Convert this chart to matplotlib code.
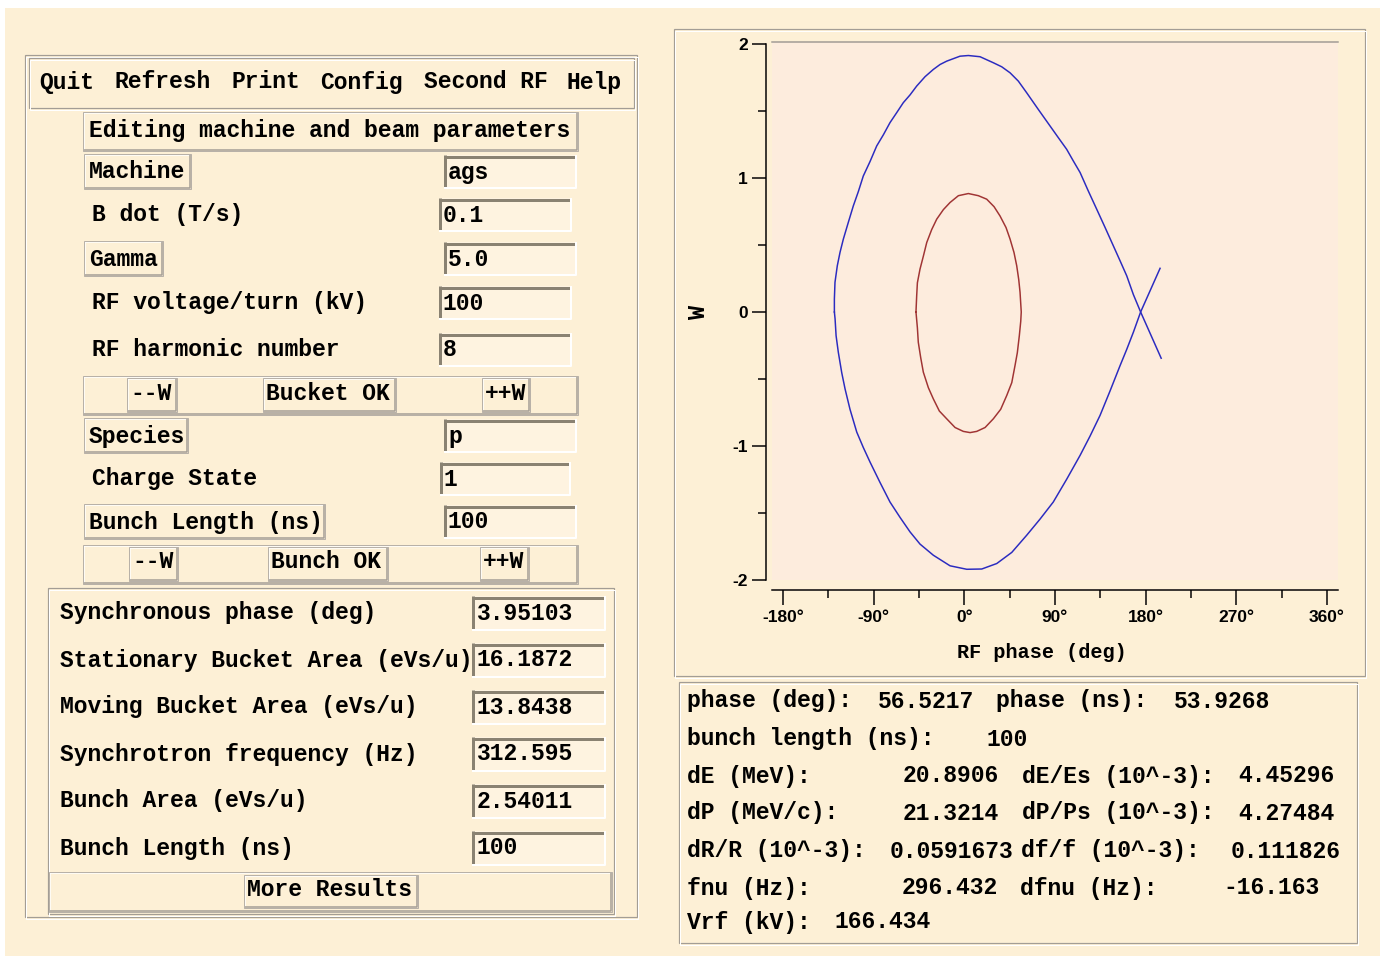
import matplotlib
matplotlib.use('Agg')
import matplotlib.pyplot as plt
from matplotlib.patches import Rectangle

# ---------------- data ----------------
sep_upper_phase = [-129.0, -129.0, -128.4, -126.1, -123.4, -120.1, -115.2, -110.2, -105.2, -100.3,
                   -93.6, -87.0, -80.4, -73.8, -67.1, -60.6, -53.9, -47.3, -39.0, -30.8,
                   -24.1, -17.5, -4.3, 4.0, 15.6, 28.8, 37.1, 45.4, 53.6, 61.9,
                   73.4, 85.1, 93.3, 101.6, 108.2, 114.9, 123.0, 131.4, 139.7, 147.9,
                   154.6, 161.2, 167.8, 175.0, 195.4]
sep_upper_w = [0.0, 0.097, 0.221, 0.345, 0.445, 0.544, 0.668, 0.792, 0.899, 1.015,
               1.123, 1.239, 1.322, 1.413, 1.488, 1.562, 1.620, 1.686, 1.756, 1.810,
               1.847, 1.872, 1.909, 1.914, 1.905, 1.860, 1.830, 1.785, 1.723, 1.636,
               1.512, 1.388, 1.301, 1.214, 1.127, 1.041, 0.904, 0.767, 0.631, 0.494,
               0.382, 0.270, 0.130, 0.0, -0.345]
sep_lower_phase = [-129.0, -128.3, -127.3, -125.1, -121.7, -118.4, -113.5, -106.8, -100.3, -93.6,
                   -83.7, -73.8, -63.8, -53.9, -44.0, -30.8, -14.2, 2.4, 17.3, 32.2,
                   47.1, 61.9, 75.1, 88.3, 101.6, 114.9, 124.8, 134.7, 144.6, 154.6,
                   161.2, 167.8, 175.0, 194.3]
sep_lower_w = [0.0, -0.052, -0.177, -0.300, -0.453, -0.574, -0.726, -0.896, -1.011, -1.120,
               -1.272, -1.418, -1.533, -1.641, -1.732, -1.815, -1.894, -1.920, -1.918, -1.877,
               -1.794, -1.666, -1.546, -1.418, -1.248, -1.070, -0.926, -0.772, -0.590, -0.400,
               -0.279, -0.151, 0.0, 0.326]
bunch_phase = [-48.0, -47.3, -46.6, -44.0, -40.7, -37.3, -32.4, -27.4, -20.8, -14.2,
               -5.9, 4.0, 13.9, 22.2, 29.5, 35.4, 41.4, 45.4, 49.3, 52.0,
               54.0, 55.3, 56.5, 56.0, 54.6, 52.6, 50.3, 47.1, 42.1, 36.1,
               28.8, 20.6, 12.3, 5.7, -1.0, -9.2, -17.5, -24.8, -30.8, -35.7,
               -40.7, -43.3, -45.7, -46.6, -48.0]
bunch_w = [0.0, 0.121, 0.218, 0.320, 0.416, 0.519, 0.615, 0.693, 0.764, 0.817,
           0.868, 0.884, 0.868, 0.842, 0.786, 0.717, 0.630, 0.544, 0.444, 0.345,
           0.242, 0.147, 0.0, -0.069, -0.176, -0.304, -0.400, -0.527, -0.623, -0.726,
           -0.797, -0.862, -0.891, -0.900, -0.891, -0.862, -0.797, -0.739, -0.648, -0.565,
           -0.449, -0.341, -0.226, -0.118, 0.0]

x_ticks = [-180, -90, 0, 90, 180, 270, 360]
x_tick_labels = ['-180°', '-90°', '0°', '90°', '180°', '270°', '360°']
x_minor = [-135, -45, 45, 135, 225, 315]
y_ticks = [-2, -1, 0, 1, 2]
y_tick_labels = ['-2', '-1', '0', '1', '2']
y_minor = [-1.5, -0.5, 0.5, 1.5]

menu_items = ['Quit', 'Refresh', 'Print', 'Config', 'Second RF', 'Help']
param_labels = ['Machine', 'B dot (T/s)', 'Gamma', 'RF voltage/turn (kV)', 'RF harmonic number',
                'Species', 'Charge State', 'Bunch Length (ns)']
param_values = ['ags', '0.1', '5.0', '100', '8', 'p', '1', '100']
result_labels = ['Synchronous phase (deg)', 'Stationary Bucket Area (eVs/u)',
                 'Moving Bucket Area (eVs/u)', 'Synchrotron frequency (Hz)',
                 'Bunch Area (eVs/u)', 'Bunch Length (ns)']
result_values = ['3.95103', '16.1872', '13.8438', '312.595', '2.54011', '100']
info_rows = [
    [('phase (deg):', 687), ('56.5217', 878), ('phase (ns):', 996), ('53.9268', 1174)],
    [('bunch length (ns):', 687), ('100', 987)],
    [('dE (MeV):', 687), ('20.8906', 903), ('dE/Es (10^-3):', 1022), ('4.45296', 1238)],
    [('dP (MeV/c):', 687), ('21.3214', 903), ('dP/Ps (10^-3):', 1022), ('4.27484', 1238)],
    [('dR/R (10^-3):', 687), ('0.0591673', 890), ('df/f (10^-3):', 1021), ('0.111826', 1231)],
    [('fnu (Hz):', 687), ('296.432', 902), ('dfnu (Hz):', 1020), ('-16.163', 1223)],
    [('Vrf (kV):', 687), ('166.434', 835)],
]

# ---------------- styles ----------------
W, H = 1382, 959
PX = 0.72
CREAM = '#FDF0D6'
PLOTBG = '#FDECDD'
ENTRY = '#FEF3E0'
GRAY = '#A39D95'
DARK = '#8A8272'
LIGHT = '#FFFFFF'
MONO = 'Liberation Mono'
FS = 16.6

fig = plt.figure(figsize=(13.82, 9.59), dpi=100, facecolor='white')
bg = fig.add_axes([0, 0, 1, 1])
bg.set_xlim(0, W)
bg.set_ylim(H, 0)
bg.axis('off')


def fill(x0, y0, x1, y1, fc):
    bg.add_patch(Rectangle((x0, y0), x1 - x0, y1 - y0, facecolor=fc, edgecolor='none', zorder=1))


def seg(xs, ys, c, lw=1.0, z=2):
    bg.plot(xs, ys, color=c, lw=lw * PX, solid_capstyle='butt', zorder=z)


def outline(x0, y0, x1, y1, c, lw=1.0):
    bg.add_patch(Rectangle((x0, y0), x1 - x0, y1 - y0, facecolor='none', edgecolor=c,
                           lw=lw * PX, zorder=2))


def etched(x0, y0, x1, y1):
    outline(x0, y0, x1, y1, GRAY, 1.2)
    outline(x0 + 1.5, y0 + 1.5, x1 + 1.5, y1 + 1.5, LIGHT, 1.0)


def raised(x0, y0, x1, y1):
    seg([x0, x0, x1], [y1, y0, y0], LIGHT, 1.5)
    seg([x0, x1, x1], [y1, y1, y0], GRAY, 1.5)
    outline(x0 - 1, y0 - 1, x1 + 1, y1 + 1, '#B8B1A8', 1.0)


def sunken(x0, y0, x1, y1):
    fill(x0, y0, x1, y1, ENTRY)
    seg([x0, x1], [y0 + 1.5, y0 + 1.5], DARK, 3)
    seg([x0 + 1.5, x0 + 1.5], [y0, y1], DARK, 3)
    seg([x0, x1, x1], [y1, y1, y0], LIGHT, 2)


def txt(x, y, s, size=FS, ha='left', **kw):
    bg.text(x, y, s, fontfamily=MONO, fontweight='bold', fontsize=size, ha=ha, va='center',
            color='black', zorder=5, **kw)


# background
fill(5, 8, 1380, 956, CREAM)

# ---------------- left panel ----------------
etched(25, 55, 637, 917)
etched(29, 58, 634, 108)
menu_x = [39, 115, 232, 320, 424, 567]
for s, x in zip(menu_items, menu_x):
    txt(x, 82, s)

raised(84, 113, 577, 150)
txt(89, 131, 'Editing machine and beam parameters')

row_y = [171, 214, 258, 302, 349, 435, 478, 521]
boxed = [True, False, True, False, False, True, False, True]
box_right = [190, None, 162, None, None, 187, None, 324]
entry_x = [(444, 576), (439, 571), (444, 576), (439, 571), (439, 571), (444, 576), (440, 570), (444, 576)]
for lab, val, y, b, br, (ex0, ex1) in zip(param_labels, param_values, row_y, boxed, box_right, entry_x):
    if b:
        raised(85, y - 16, br, y + 17)
        txt(89, y + 1, lab)
    else:
        txt(92, y + 1, lab)
    sunken(ex0, y - 16, ex1, y + 17)
    txt(ex0 + 4, y + 1, val)

# button bars
for (y0, y1, yt, buttons) in [
        (377, 414, 393, [(128, 176, '--W'), (264, 395, 'Bucket OK'), (483, 529, '++W')]),
        (546, 583, 562, [(130, 177, '--W'), (269, 387, 'Bunch OK'), (481, 528, '++W')])]:
    raised(84, y0, 577, y1)
    for bx0, bx1, s in buttons:
        raised(bx0, y0 + 2, bx1, y1 - 3)
        txt(bx0 + 2, yt, s)

# results frame
etched(48, 588, 614, 914)
res_y = [612, 659, 706, 753, 800, 847]
for lab, val, y in zip(result_labels, result_values, res_y):
    txt(60, y + 1, lab)
    sunken(472, y - 16, 605, y + 18)
    txt(477, y + 1, val)
raised(50, 873, 611, 911)
raised(245, 876, 417, 907)
txt(247, 890, 'More Results')

# ---------------- right panel frames ----------------
etched(674, 29, 1365, 676)
etched(679, 682, 1357, 943)
info_y = [701, 739, 776, 813, 851, 888, 922]
for row, y in zip(info_rows, info_y):
    for s, x in row:
        txt(x, y, s)

# ---------------- phase-space plot ----------------
x_left_px, x_right_px = 772, 1338
y_top_px, y_bot_px = 42, 580
deg_px = 544 / 540.0
w_px = 134.25
xmin = -180 - (783 - x_left_px) / deg_px
xmax = xmin + (x_right_px - x_left_px) / deg_px
ymax = (312.5 - y_top_px) / w_px
ymin = (312.5 - y_bot_px) / w_px

ax = fig.add_axes([x_left_px / W, (H - y_bot_px) / H, (x_right_px - x_left_px) / W,
                   (y_bot_px - y_top_px) / H])
ax.set_facecolor(PLOTBG)
ax.set_xlim(xmin, xmax)
ax.set_ylim(ymin, ymax)

LW = 1.5 * PX
ax.plot(sep_upper_phase, sep_upper_w, color='#2B2BC0', lw=LW, solid_joinstyle='round')
ax.plot(sep_lower_phase, sep_lower_w, color='#2B2BC0', lw=LW, solid_joinstyle='round')
ax.plot(bunch_phase, bunch_w, color='#A03434', lw=LW, solid_joinstyle='round')

ax.spines['right'].set_visible(False)
ax.spines['top'].set_color('#A09A94')
ax.spines['top'].set_linewidth(1.5 * PX)
ax.spines['left'].set_position(('outward', 6 * PX))
ax.spines['left'].set_bounds(-2, 2)
ax.spines['left'].set_linewidth(1.5 * PX)
ax.spines['bottom'].set_position(('outward', 10 * PX))
ax.spines['bottom'].set_linewidth(1.5 * PX)

TICKFONT = dict(fontweight='bold', fontfamily='Liberation Sans', fontsize=12.5)
ax.set_xticks(x_ticks, labels=x_tick_labels, **TICKFONT)
ax.set_xticks(x_minor, minor=True)
ax.set_yticks(y_ticks, labels=y_tick_labels, **TICKFONT)
ax.set_yticks(y_minor, minor=True)
ax.tick_params(axis='x', which='major', direction='out', length=15 * PX, width=1.5 * PX, pad=5 * PX)
ax.tick_params(axis='x', which='minor', direction='out', length=8 * PX, width=1.5 * PX)
ax.tick_params(axis='y', which='major', direction='out', length=14 * PX, width=1.5 * PX, pad=4 * PX)
ax.tick_params(axis='y', which='minor', direction='out', length=8 * PX, width=1.5 * PX)

txt(1042, 652, 'RF phase (deg)', size=14.5, ha='center')
txt(699, 313, 'W', size=17, ha='center', rotation=90)

fig.savefig('out.png', dpi=100, facecolor='white')
